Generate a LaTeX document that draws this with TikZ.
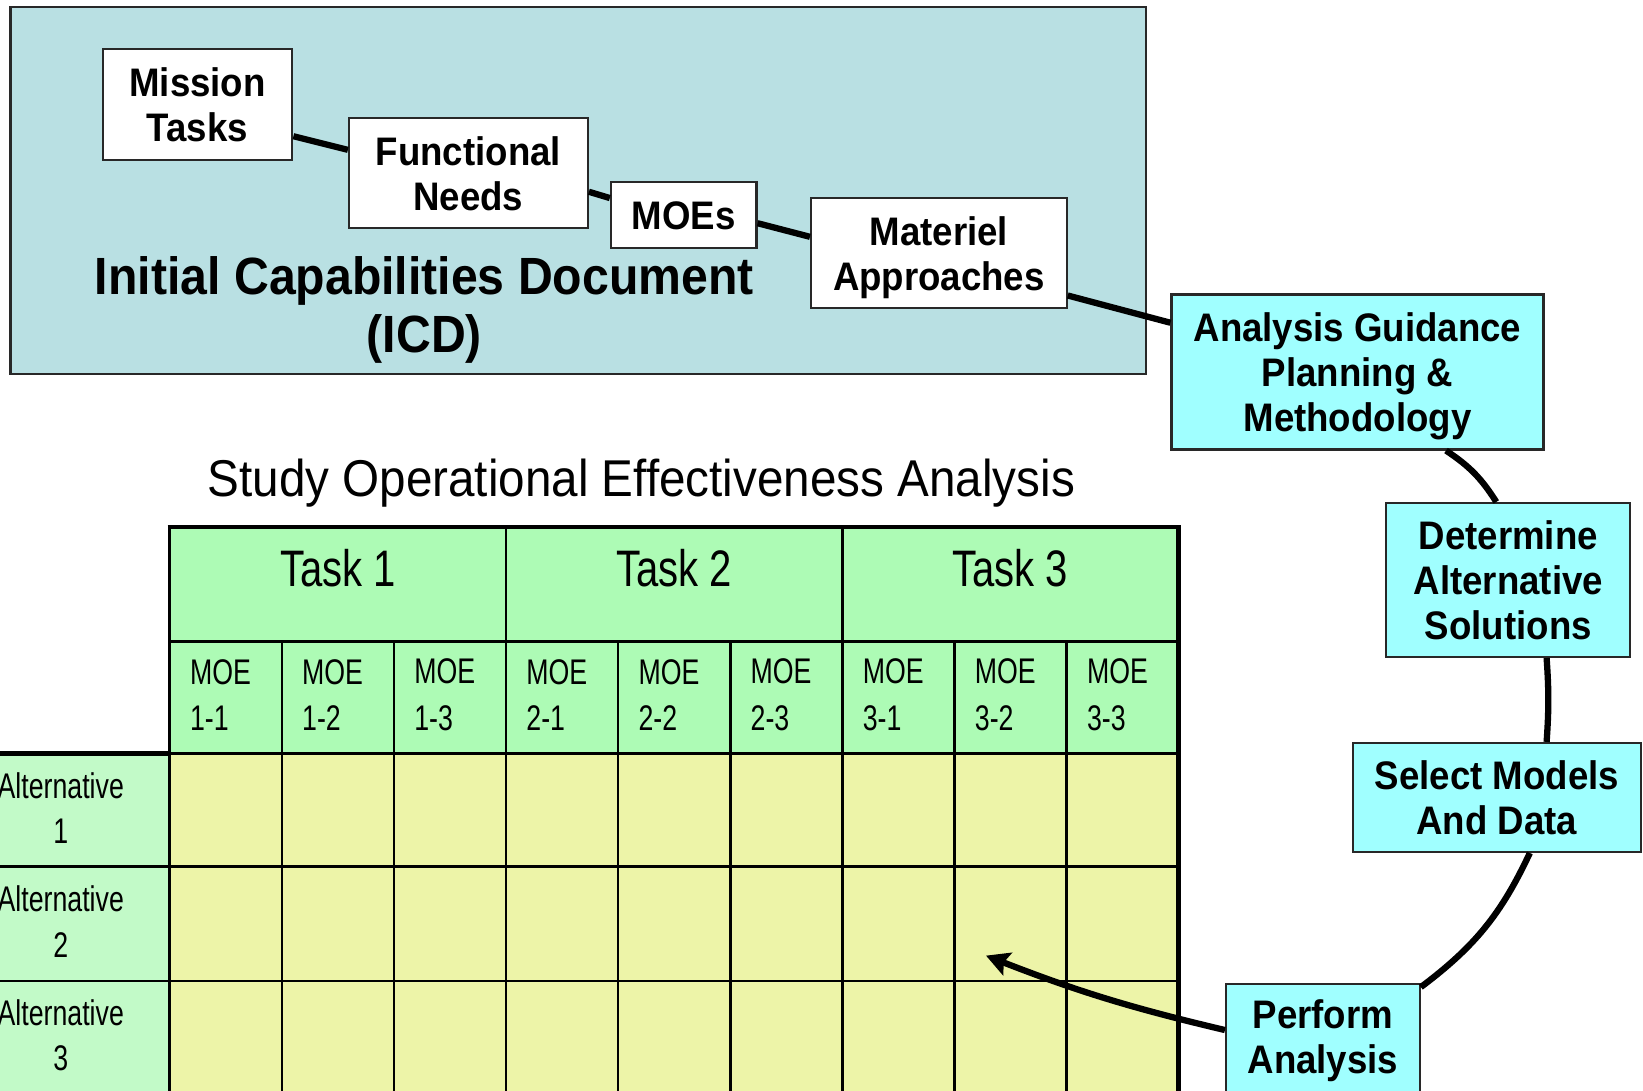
\documentclass[tikz,border=0pt]{standalone}
\usepackage{fontspec}
\setmainfont{Liberation Sans}
\newfontfamily\boxfont{Liberation Sans}[FakeStretch=0.92]
\newfontfamily\narrowfont{Liberation Sans}[FakeStretch=0.75]
\newfontfamily\taskfont{Liberation Sans}[FakeStretch=0.78]
\usetikzlibrary{arrows.meta,calc}
\definecolor{icdfill}{RGB}{185,224,227}
\definecolor{cyanfill}{RGB}{160,255,255}
\definecolor{hdrgreen}{RGB}{173,251,181}
\definecolor{altgreen}{RGB}{194,250,200}
\definecolor{cellyellow}{RGB}{237,244,168}
\definecolor{edgegray}{RGB}{40,40,40}
\newcommand{\dropstrut}{\rule{0pt}{17.9pt}}
\begin{document}
\begin{tikzpicture}[x=0.5pt,y=-0.5pt,
  icdbox/.style={draw=edgegray,line width=1pt,fill=icdfill,inner sep=0pt},
  whitebox/.style={draw=edgegray,line width=1pt,fill=white,inner sep=0pt,align=center,
    font=\boxfont\bfseries\fontsize{19}{21.5}\selectfont},
  stepbox/.style={whitebox,fill=cyanfill},
  bigtitle/.style={inner sep=0pt,align=center,font=\boxfont\bfseries\fontsize{25}{27.5}\selectfont},
  studytitle/.style={inner sep=0pt,font=\boxfont\fontsize{24.7}{28}\selectfont},
  tasklabel/.style={inner sep=0pt,font=\taskfont\fontsize{24.5}{28}\selectfont},
  moelabel/.style={inner sep=0pt,align=left,font=\narrowfont\fontsize{17}{22}\selectfont},
  altlabel/.style={inner sep=0pt,align=center,font=\narrowfont\fontsize{17}{21.5}\selectfont},
  link/.style={line width=3pt},
  gridline/.style={line width=1.2pt},
  midline/.style={line width=1.6pt},
  heavyline/.style={line width=2.3pt}
]
\useasboundingbox (0,0) rectangle (1568,1041);

% ICD panel
\node[icdbox,minimum width=542pt,minimum height=175pt] (icd) at (552,182) {};
\node[bigtitle] (icdtitle) at (405,296) {Initial Capabilities Document\\(ICD)};

% boxes in the ICD
\node[whitebox,minimum width=90.5pt,minimum height=53pt] (mis) at (188.5,100) {Mission\\Tasks};
\node[whitebox,minimum width=114pt,minimum height=52.5pt] (fun) at (447,165.5) {Functional\\Needs};
\node[whitebox,minimum width=69.5pt,minimum height=31.5pt] (moe) at (652.5,205.5) {MOEs};
\node[whitebox,minimum width=122pt,minimum height=52.5pt] (mat) at (896,241.5) {\dropstrut Materiel\\Approaches};

% process boxes
\node[stepbox,minimum width=177.5pt,minimum height=74pt] (ana) at (1295.5,355) {\dropstrut Analysis Guidance\\Planning \&\\Methodology};
\node[stepbox,minimum width=116.5pt,minimum height=73.5pt] (det) at (1439.5,553.5) {Determine\\Alternative\\Solutions};
\node[stepbox,minimum width=137.5pt,minimum height=52pt] (sel) at (1428.5,761) {Select Models\\And Data};
\node[stepbox,minimum width=92.5pt,minimum height=54pt] (per) at (1262.5,993) {Perform\\Analysis};

% study title
\node[studytitle,anchor=base] (study) at (612,474) {Study Operational Effectiveness Analysis};

% table fills
\fill[hdrgreen] (162,503) rectangle (1125,719);
\fill[altgreen] (-20,719) rectangle (162,1060);
\fill[cellyellow] (162,719) rectangle (1125,1060);
% grid
\foreach \x in {269,376,590,697,911,1018} \draw[gridline] (\x,612) -- (\x,1060);
\foreach \x in {483,804} \draw[gridline] (\x,503) -- (\x,1060);
\draw[gridline] (162,612) -- (1125,612);
\draw[gridline] (162,719) -- (1125,719);
\foreach \y in {827,936} \draw[gridline] (-20,\y) -- (1125,\y);
\draw[midline] (162,503) -- (162,1060);
\draw[heavyline] (-20,719) -- (162,719);
\draw[heavyline] (160,503) -- (1125,503) -- (1125,1060);

% table texts
\foreach \t/\x in {1/322.5,2/643.5,3/964}
  \node[tasklabel,anchor=base] (task\t) at (\x,560) {Task \t};
\foreach \i in {1,2,3}{
  \foreach \j in {1,2,3}{
    \pgfmathsetmacro{\cx}{181+107*(3*(\i-1)+\j-1)}
    \node[moelabel,anchor=west] (moe\i\j) at (\cx,663) {MOE\\\i-\j};
  }
}
\foreach \r/\y in {1/771,2/879.5,3/988}
  \node[altlabel] (alt\r) at (58,\y) {Alternative\\\r};

% connectors
\draw[link] ($(mis.east)+(0,30)$) -- ($(fun.west)+(0,-22.5)$);
\draw[link] ($(fun.east)+(0,17.5)$) -- ($(moe.west)+(0,-16.5)$);
\draw[link] ($(moe.east)+(0,7.5)$) -- ($(mat.west)+(0,-15.5)$);
\draw[link] ($(mat.east)+(0,40.5)$) -- ($(ana.west)+(0,-47)$);
\draw[link] ($(ana.south)+(84.5,0)$) to[bend left=12] ($(det.north)+(-11.5,0)$);
\draw[link] ($(det.south)+(36.5,0)$) to[bend left=4] ($(sel.north)+(47.5,0)$);
\draw[link] ($(sel.south)+(31.5,0)$) to[bend left=14] ($(per.north east)+(0,4)$);
\coordinate (tip) at (941,912);
\draw[link,-{Stealth[length=11pt,width=11.5pt,inset=2pt]}] ($(per.west)+(0,-10)$) to[bend left=4] (tip);
\end{tikzpicture}
\end{document}
